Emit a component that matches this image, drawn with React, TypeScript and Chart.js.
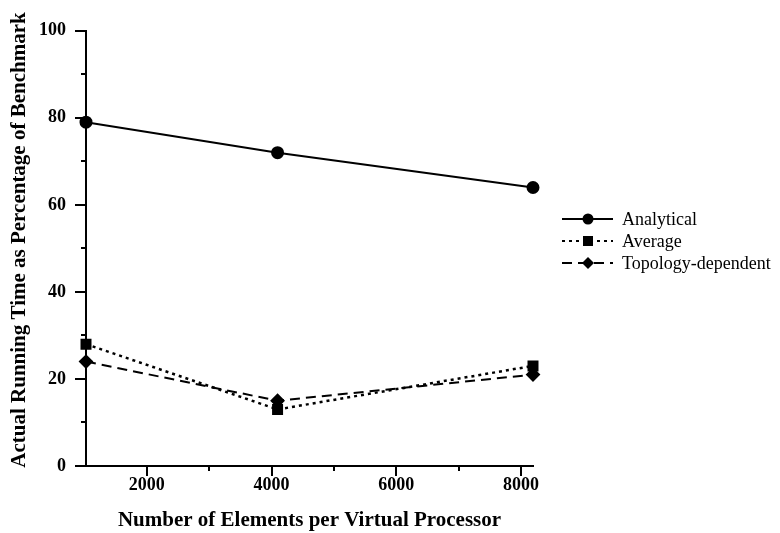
import React, { useEffect, useRef } from "react";
import { Chart, registerables } from "chart.js";

Chart.register(...registerables);

const elements = [1024, 4096, 8192];
const analytical = [79, 72, 64];
const average = [28, 13, 23];
const topology = [24, 15, 21];
const seriesNames = ["Analytical", "Average", "Topology-dependent"];
const xMajorTicks = [2000, 4000, 6000, 8000];
const xMinorTicks = [3000, 5000, 7000];
const yMajorTicks = [0, 20, 40, 60, 80, 100];
const yMinorTicks = [10, 30, 50, 70, 90];
const xTitle = "Number of Elements per Virtual Processor";
const yTitle = "Actual Running Time as Percentage of Benchmark";

const FONT = "'Liberation Serif', 'Times New Roman', serif";

const decorPlugin = {
  id: "decor",
  afterDraw(chart: any) {
    const ctx = chart.ctx;
    const xs = chart.scales.x;
    const ys = chart.scales.y;
    const area = chart.chartArea;
    ctx.save();
    ctx.strokeStyle = "#000";
    ctx.lineWidth = 2;
    const drawX = (v: number, len: number) => {
      const px = Math.round(xs.getPixelForValue(v));
      ctx.beginPath();
      ctx.moveTo(px, area.bottom);
      ctx.lineTo(px, area.bottom + len);
      ctx.stroke();
    };
    xMajorTicks.forEach((v) => drawX(v, 10));
    xMinorTicks.forEach((v) => drawX(v, 5));
    const drawY = (v: number, len: number) => {
      const py = Math.round(ys.getPixelForValue(v));
      ctx.beginPath();
      ctx.moveTo(area.left, py);
      ctx.lineTo(area.left - len, py);
      ctx.stroke();
    };
    yMajorTicks.forEach((v) => drawY(v, 11));
    yMinorTicks.forEach((v) => drawY(v, 5));

    ctx.fillStyle = "#000";
    ctx.font = `bold 21px ${FONT}`;
    ctx.textAlign = "center";
    ctx.textBaseline = "middle";
    ctx.fillText(xTitle, (area.left + area.right) / 2, 521);
    ctx.save();
    ctx.translate(20, 240);
    ctx.rotate(-Math.PI / 2);
    ctx.fillText(yTitle, 0, 0);
    ctx.restore();

    const rows = [219, 241, 263];
    chart.data.datasets.forEach((ds: any, i: number) => {
      const y = rows[i];
      ctx.save();
      ctx.strokeStyle = "#000";
      ctx.lineWidth = 2;
      ctx.setLineDash(ds.borderDash || []);
      ctx.beginPath();
      ctx.moveTo(562, y);
      ctx.lineTo(613, y);
      ctx.stroke();
      ctx.setLineDash([]);
      ctx.fillStyle = "#000";
      const cx = 588;
      ctx.beginPath();
      if (ds.pointStyle === "circle") {
        ctx.arc(cx, y, 5.5, 0, Math.PI * 2);
      } else if (ds.pointStyle === "rect") {
        ctx.rect(cx - 5, y - 5, 10, 10);
      } else {
        ctx.moveTo(cx, y - 6);
        ctx.lineTo(cx + 6, y);
        ctx.lineTo(cx, y + 6);
        ctx.lineTo(cx - 6, y);
        ctx.closePath();
      }
      ctx.fill();
      ctx.font = `18px ${FONT}`;
      ctx.textAlign = "left";
      ctx.textBaseline = "middle";
      ctx.fillText(ds.label, 622, y + 1);
      ctx.restore();
    });
    ctx.restore();
  },
};

export default function App() {
  const ref = useRef<HTMLCanvasElement | null>(null);
  useEffect(() => {
    if (!ref.current) return;
    const mk = (data: number[]) => data.map((v, i) => ({ x: elements[i], y: v }));
    const chart = new Chart(ref.current, {
      type: "line",
      data: {
        datasets: [
          {
            label: seriesNames[0],
            data: mk(analytical),
            borderColor: "#000",
            backgroundColor: "#000",
            borderWidth: 2,
            pointStyle: "circle",
            pointRadius: 5.5,
            borderDash: [],
          },
          {
            label: seriesNames[1],
            data: mk(average),
            borderColor: "#000",
            backgroundColor: "#000",
            borderWidth: 2.5,
            pointStyle: "rect",
            pointRadius: 6,
            borderDash: [3, 4],
          },
          {
            label: seriesNames[2],
            data: mk(topology),
            borderColor: "#000",
            backgroundColor: "#000",
            borderWidth: 2,
            pointStyle: "rectRot",
            pointRadius: 6,
            borderDash: [10, 6],
          },
        ] as any,
      },
      options: {
        animation: false,
        responsive: false,
        clip: false as any,
        layout: { padding: { top: 15, right: 247, left: 0, bottom: 0 } },
        plugins: { legend: { display: false }, tooltip: { enabled: false } },
        scales: {
          x: {
            type: "linear",
            min: 1024,
            max: 8192,
            afterBuildTicks: (s: any) => {
              s.ticks = xMajorTicks.map((v) => ({ value: v }));
            },
            afterFit: (s: any) => {
              s.height = 67;
            },
            grid: { display: false, drawTicks: false },
            border: { display: true, color: "#000", width: 2 },
            ticks: {
              color: "#000",
              padding: 9,
              font: { family: FONT, size: 18, weight: "bold" },
              maxRotation: 0,
              autoSkip: false,
              callback: (v: any) => String(v),
            },
          },
          y: {
            type: "linear",
            min: 0,
            max: 100,
            afterBuildTicks: (s: any) => {
              s.ticks = yMajorTicks.map((v) => ({ value: v }));
            },
            afterFit: (s: any) => {
              s.width = 86;
            },
            grid: { display: false, drawTicks: false },
            border: { display: true, color: "#000", width: 2 },
            ticks: {
              color: "#000",
              padding: 20,
              font: { family: FONT, size: 18, weight: "bold" },
              autoSkip: false,
              callback: (v: any) => String(v),
            },
          },
        },
      },
      plugins: [decorPlugin],
    });
    return () => chart.destroy();
  }, []);
  return (
    <div style={{ position: "fixed", left: 0, top: 0, width: 780, height: 533, background: "#fff" }}>
      <canvas ref={ref} width={780} height={533} style={{ width: 780, height: 533 }} />
    </div>
  );
}
